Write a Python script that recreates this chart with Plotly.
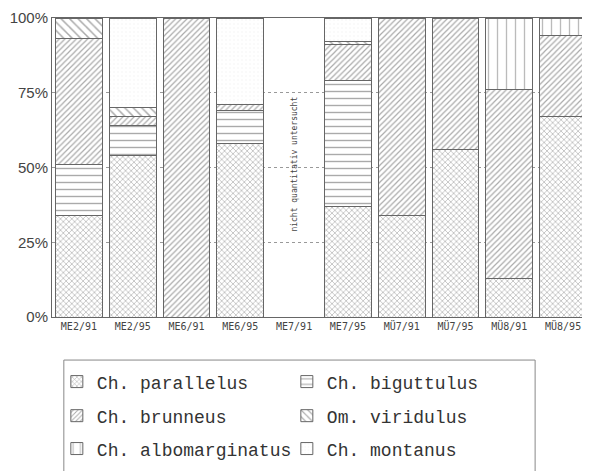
import plotly.graph_objects as go

categories = ["ME2/91", "ME2/95", "ME6/91", "ME6/95", "ME7/91",
              "ME7/95", "MÜ7/91", "MÜ7/95", "MÜ8/91", "MÜ8/95"]
parallelus = [34, 54, None, 58, None, 37, 34, 56, 13, 67]
biguttulus = [17, 10, None, 11, None, 42, None, None, None, None]
brunneus = [42, 3, 100, 2, None, 12, 66, 44, 63, 27]
viridulus = [7, 3, None, None, None, 1, None, None, None, None]
albomarginatus = [None, None, None, None, None, None, None, None, 24, 6]
montanus = [None, 30, None, 29, None, 8, None, None, None, None]
y_ticks = [0, 25, 50, 75, 100]
y_ticktext = ["0%", "25%", "50%", "75%", "100%"]

series = [
    ("Ch. parallelus", parallelus, dict(shape="x", size=4, solidity=0.3, fgcolor="#555"), "legend"),
    ("Ch. biguttulus", biguttulus, dict(shape="-", size=7, solidity=0.2, fgcolor="#555"), "legend"),
    ("Ch. brunneus", brunneus, dict(shape="/", size=4, solidity=0.3, fgcolor="#555"), "legend2"),
    ("Om. viridulus", viridulus, dict(shape="\\", size=6, solidity=0.25, fgcolor="#555"), "legend2"),
    ("Ch. albomarginatus", albomarginatus, dict(shape="|", size=9, solidity=0.15, fgcolor="#777"), "legend3"),
    ("Ch. montanus", montanus, dict(shape=".", size=4, solidity=0.1, fgcolor="#e4e4e4"), "legend3"),
]

fig = go.Figure()
for name, vals, pat, lg in series:
    pat = dict(pat, bgcolor="white")
    fig.add_trace(go.Bar(
        x=categories, y=vals, name=name, width=0.87,
        marker=dict(color="white", pattern=pat, line=dict(color="#666", width=1)),
        legend=lg,
    ))

fig.add_annotation(x="ME7/91", y=51, text="nicht quantitativ untersucht", textangle=-90,
                   showarrow=False, font=dict(family="DejaVu Sans Mono", size=8, color="#444"))

legend_common = dict(orientation="h", xanchor="left", yanchor="middle", x=0.009,
                     font=dict(family="Liberation Mono", size=18, color="#333"),
                     entrywidth=185, entrywidthmode="pixels", bgcolor="rgba(0,0,0,0)",
                     borderwidth=0, traceorder="normal")

# page body has an 8px margin; figure is sized so it fits the 590x471 window
fig.update_layout(
    width=582, height=463,
    margin=dict(l=44, r=0, t=10, b=154),
    paper_bgcolor="white", plot_bgcolor="white",
    barmode="stack",
    showlegend=True,
    legend=dict(legend_common, y=-0.217),
    legend2=dict(legend_common, y=-0.331),
    legend3=dict(legend_common, y=-0.441),
    xaxis=dict(showline=True, linecolor="#666", linewidth=1, mirror=True,
               tickfont=dict(family="DejaVu Sans Mono", size=10, color="#444"),
               ticks="", showgrid=False, automargin=False),
    yaxis=dict(range=[0, 100], tickvals=y_ticks, ticktext=y_ticktext,
               showline=True, linecolor="#666", linewidth=1,
               showgrid=True, gridcolor="#999", griddash="dot", gridwidth=1,
               tickfont=dict(family="Liberation Sans", size=15, color="#444"),
               zeroline=False, ticks="", automargin=False),
    shapes=[dict(type="rect", xref="paper", yref="paper",
                 x0=0.022, x1=0.898, y0=-0.53, y1=-0.144,
                 line=dict(color="#888", width=1), fillcolor="rgba(0,0,0,0)")],
)

fig.write_html("out.html")
